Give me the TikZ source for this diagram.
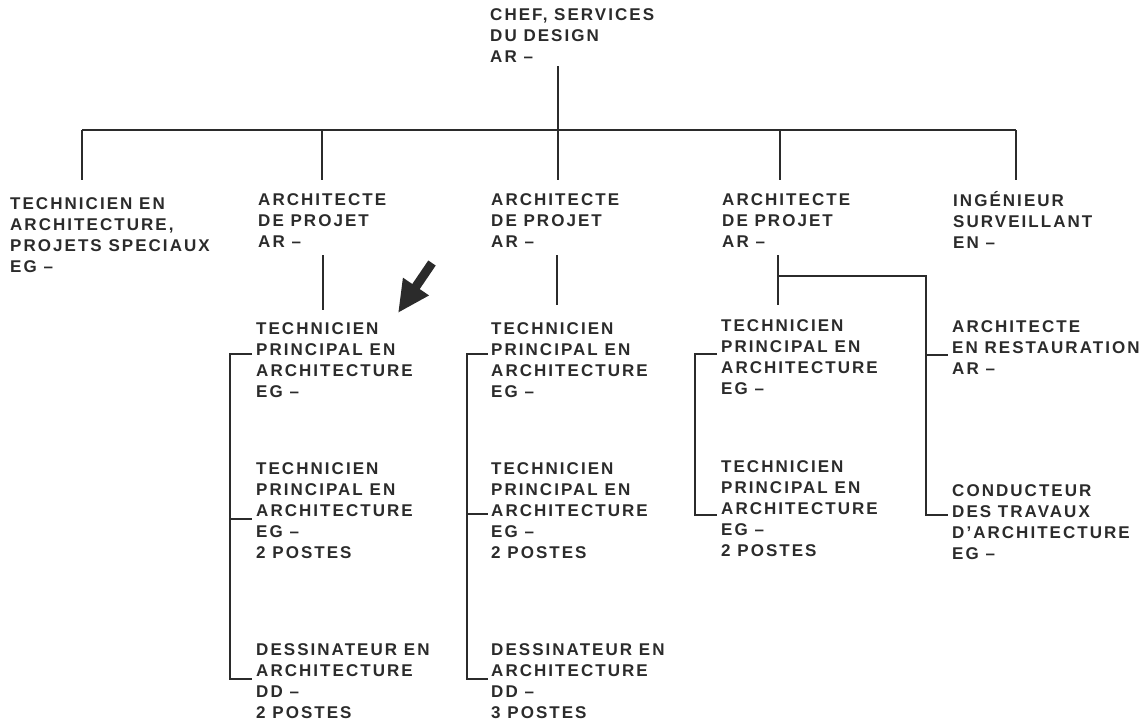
\documentclass[tikz,border=0pt]{standalone}
\usepackage{fontspec}
\newfontfamily\orgfont{Liberation Sans}[LetterSpace=12]
\usetikzlibrary{arrows.meta,positioning}
\definecolor{orgInk}{HTML}{2B2B2B}

\begin{document}
\begin{tikzpicture}[x=1pt, y=-1pt,
    t/.style={anchor=north west, inner sep=0pt, align=left, text=orgInk,
      font=\orgfont\bfseries\fontsize{17}{21}\selectfont},
    ln/.style={draw=orgInk, line width=1.7pt},
    arr/.style={-{Triangle[length=32pt,width=29pt]}, line width=9pt, orgInk}]
  \useasboundingbox (0,0) rectangle (1148,724);
  % head of the service
  \node[t] (chef) at (490,8) {CHEF, SERVICES\\DU DESIGN\\AR –};
  % second level
  \node[t] (tea) at (10,197) {TECHNICIEN EN\\ARCHITECTURE,\\PROJETS SPECIAUX\\EG –};
  \node[t] (apa) at (258,193) {ARCHITECTE\\DE PROJET\\AR –};
  \node[t] (apb) at (491,193) {ARCHITECTE\\DE PROJET\\AR –};
  \node[t] (apc) at (722,193) {ARCHITECTE\\DE PROJET\\AR –};
  \node[t] (ing) at (953,191) {INGÉNIEUR\\SURVEILLANT\\EN –};
  % third level
  \node[t] (a1) at (256,322) {TECHNICIEN\\PRINCIPAL EN\\ARCHITECTURE\\EG –};
  \node[t] (a2) at (256,462) {TECHNICIEN\\PRINCIPAL EN\\ARCHITECTURE\\EG –\\2 POSTES};
  \node[t] (a3) at (256,643) {DESSINATEUR EN\\ARCHITECTURE\\DD –\\2 POSTES};
  \node[t] (b1) at (491,322) {TECHNICIEN\\PRINCIPAL EN\\ARCHITECTURE\\EG –};
  \node[t] (b2) at (491,462) {TECHNICIEN\\PRINCIPAL EN\\ARCHITECTURE\\EG –\\2 POSTES};
  \node[t] (b3) at (491,643) {DESSINATEUR EN\\ARCHITECTURE\\DD –\\3 POSTES};
  \node[t] (c1) at (721,319) {TECHNICIEN\\PRINCIPAL EN\\ARCHITECTURE\\EG –};
  \node[t] (c2) at (721,460) {TECHNICIEN\\PRINCIPAL EN\\ARCHITECTURE\\EG –\\2 POSTES};
  \node[t] (d1) at (952,320) {ARCHITECTE\\EN RESTAURATION\\AR –};
  \node[t] (d2) at (952,484) {CONDUCTEUR\\DES TRAVAUX\\D’ARCHITECTURE\\EG –};

  % bus under the head
  \coordinate (top) at (558,66);
  \coordinate (bus) at (558,130);
  \draw[ln] (top) -- (bus);
  \draw[ln] (82,130) -- (1016,130);
  \foreach \x in {82,322,558,780,1016}
    \draw[ln] (\x,130) -- ++(0,50);

  % project architects down to their staff
  \coordinate (fa) at (323,255);
  \coordinate (fb) at (557,255);
  \coordinate (fc) at (778,255);
  \draw[ln] (fa) -- ++(0,55);
  \draw[ln] (fb) -- ++(0,50);
  \draw[ln] (fc) -- ++(0,50);
  \draw[ln] (778,276) -| ([xshift=-26pt,yshift=-31pt]d2.north west)
    -- ([xshift=-4pt,yshift=-31pt]d2.north west);
  \draw[ln] ([xshift=-26pt,yshift=-35pt]d1.north west) -- ([xshift=-4pt,yshift=-35pt]d1.north west);

  % brackets
  \draw[ln] ([xshift=-4pt,yshift=-32pt]a1.north west) -| ([xshift=-26pt,yshift=-36pt]a3.north west)
    -- ([xshift=-4pt,yshift=-36pt]a3.north west);
  \draw[ln] ([xshift=-26pt,yshift=-57pt]a2.north west) -- ([xshift=-4pt,yshift=-57pt]a2.north west);
  \draw[ln] ([xshift=-3pt,yshift=-32pt]b1.north west) -| ([xshift=-24pt,yshift=-36pt]b3.north west)
    -- ([xshift=-3pt,yshift=-36pt]b3.north west);
  \draw[ln] ([xshift=-24pt,yshift=-52pt]b2.north west) -- ([xshift=-3pt,yshift=-52pt]b2.north west);
  \draw[ln] ([xshift=-4pt,yshift=-35pt]c1.north west) -| ([xshift=-26pt,yshift=-55pt]c2.north west)
    -- ([xshift=-4pt,yshift=-55pt]c2.north west);

  % pointer
  \coordinate (ptail) at (432,263);
  \coordinate (ptip) at (398,313);
  \draw[arr] (ptail) -- (ptip);
\end{tikzpicture}
\end{document}
